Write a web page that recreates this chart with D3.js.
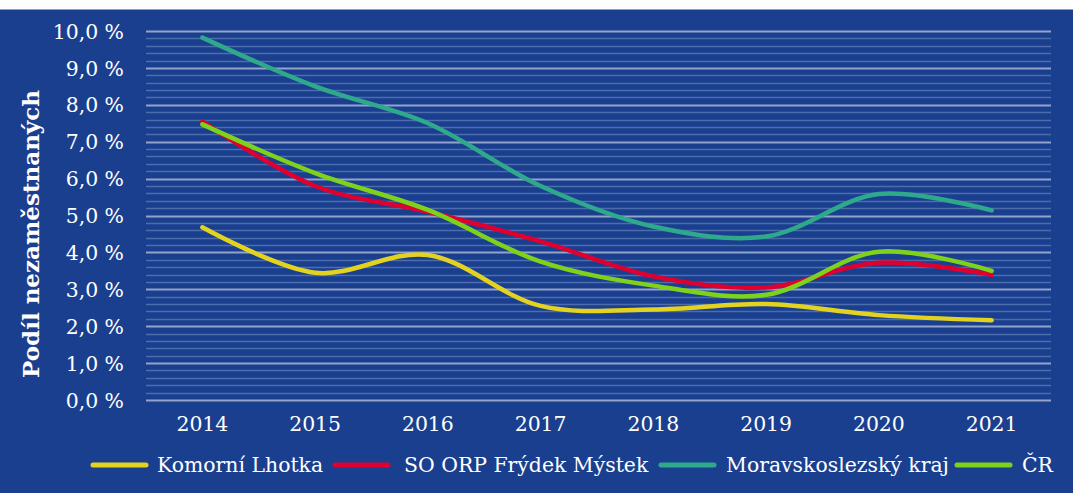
<!DOCTYPE html>
<html><head><meta charset="utf-8">
<script src="https://cdn.jsdelivr.net/npm/d3@7"></script>
<style>
html,body{margin:0;padding:0;background:#fff;}
svg{display:block;}
</style></head>
<body>
<script>
const years = ["2014","2015","2016","2017","2018","2019","2020","2021"];
const komorniLhotka = [4.68, 3.45, 3.93, 2.55, 2.45, 2.6, 2.3, 2.16];
const soOrpFrydekMistek = [7.55, 5.8, 5.1, 4.3, 3.35, 3.05, 3.72, 3.39];
const moravskoslezsky = [9.82, 8.5, 7.5, 5.8, 4.7, 4.43, 5.58, 5.14];
const cr = [7.47, 6.15, 5.15, 3.75, 3.1, 2.85, 4.02, 3.5];
const seriesNames = ["Komorní Lhotka", "SO ORP Frýdek Mýstek", "Moravskoslezský kraj", "ČR"];
const seriesColors = ["#e3d31f", "#e0002f", "#2fa98b", "#7fd21a"];
const yTicks = [0,1,2,3,4,5,6,7,8,9,10];
const yTitle = "Podíl nezaměstnaných";

const W = 1073, H = 493;
const svg = d3.select("body").append("svg").attr("width", W).attr("height", H);
svg.append("rect").attr("x",0).attr("y",9.5).attr("width",W).attr("height",H-9.5).attr("fill","#1b3f8f");

const x = d3.scaleBand().domain(years).range([146, 1048]);
const y = d3.scaleLinear().domain([0, 10]).range([400, 31]);
const font = "'DejaVu Serif', serif";
const fs = 20.4;

// minor grid
const minor = d3.range(0, 10.01, 0.2).filter(v => Math.abs(v - Math.round(v)) > 0.01);
svg.append("g").selectAll("line").data(minor).join("line")
  .attr("x1", 146).attr("x2", 1051)
  .attr("y1", d => Math.round(y(d)) + 0.5).attr("y2", d => Math.round(y(d)) + 0.5)
  .attr("stroke", "#4d6cab").attr("stroke-width", 1.5);
svg.append("g").selectAll("line").data(yTicks).join("line")
  .attr("x1", 146).attr("x2", 1051)
  .attr("y1", d => Math.round(y(d)) + 0.5).attr("y2", d => Math.round(y(d)) + 0.5)
  .attr("stroke", "#93a3c9").attr("stroke-width", 2);

// y axis labels
const yAxis = d3.axisLeft(y).tickValues(yTicks).tickSize(0).tickPadding(0)
  .tickFormat(d => d3.format(".1f")(d).replace(".", ",") + " %");
const ga = svg.append("g").attr("transform", "translate(124,0)").call(yAxis);
ga.select(".domain").remove();
ga.selectAll("text").attr("fill", "#fff").attr("font-family", font).attr("font-size", fs).attr("dy", "0.35em");

// x axis labels
const xAxis = d3.axisBottom(x).tickSize(0).tickPadding(0);
const gx = svg.append("g").attr("transform", "translate(0,424)").call(xAxis);
gx.select(".domain").remove();
gx.selectAll("text").attr("fill", "#fff").attr("font-family", font).attr("font-size", fs).attr("dy", "0.35em");

// y title
svg.append("text").attr("transform", "translate(39,234) rotate(-90)")
  .attr("text-anchor", "middle").attr("fill", "#fff").attr("font-family", font)
  .attr("font-weight", "bold").attr("font-size", 23).text(yTitle);

// lines
const allSeries = [komorniLhotka, soOrpFrydekMistek, moravskoslezsky, cr];
const line = d3.line().x((d, i) => x(years[i]) + x.bandwidth() / 2).y(d => y(d))
  .curve(d3.curveCatmullRom.alpha(0.5));
const order = [2, 0, 1, 3];
order.forEach(k => {
  svg.append("path").attr("d", line(allSeries[k])).attr("fill", "none")
    .attr("stroke", seriesColors[k]).attr("stroke-width", 4.5)
    .attr("stroke-linecap", "round").attr("stroke-linejoin", "round");
});

// legend
const legX = [93, 335, 661, 957];
const legTx = [157, 404, 726, 1022];
const lg = svg.append("g");
seriesNames.forEach((n, i) => {
  lg.append("line").attr("x1", legX[i]).attr("x2", legX[i] + 53).attr("y1", 465).attr("y2", 465)
    .attr("stroke", seriesColors[i]).attr("stroke-width", 5).attr("stroke-linecap", "round");
  lg.append("text").attr("x", legTx[i]).attr("y", 465).attr("dy", "0.35em")
    .attr("fill", "#fff").attr("font-family", font).attr("font-size", fs).text(n);
});
</script>
</body></html>
